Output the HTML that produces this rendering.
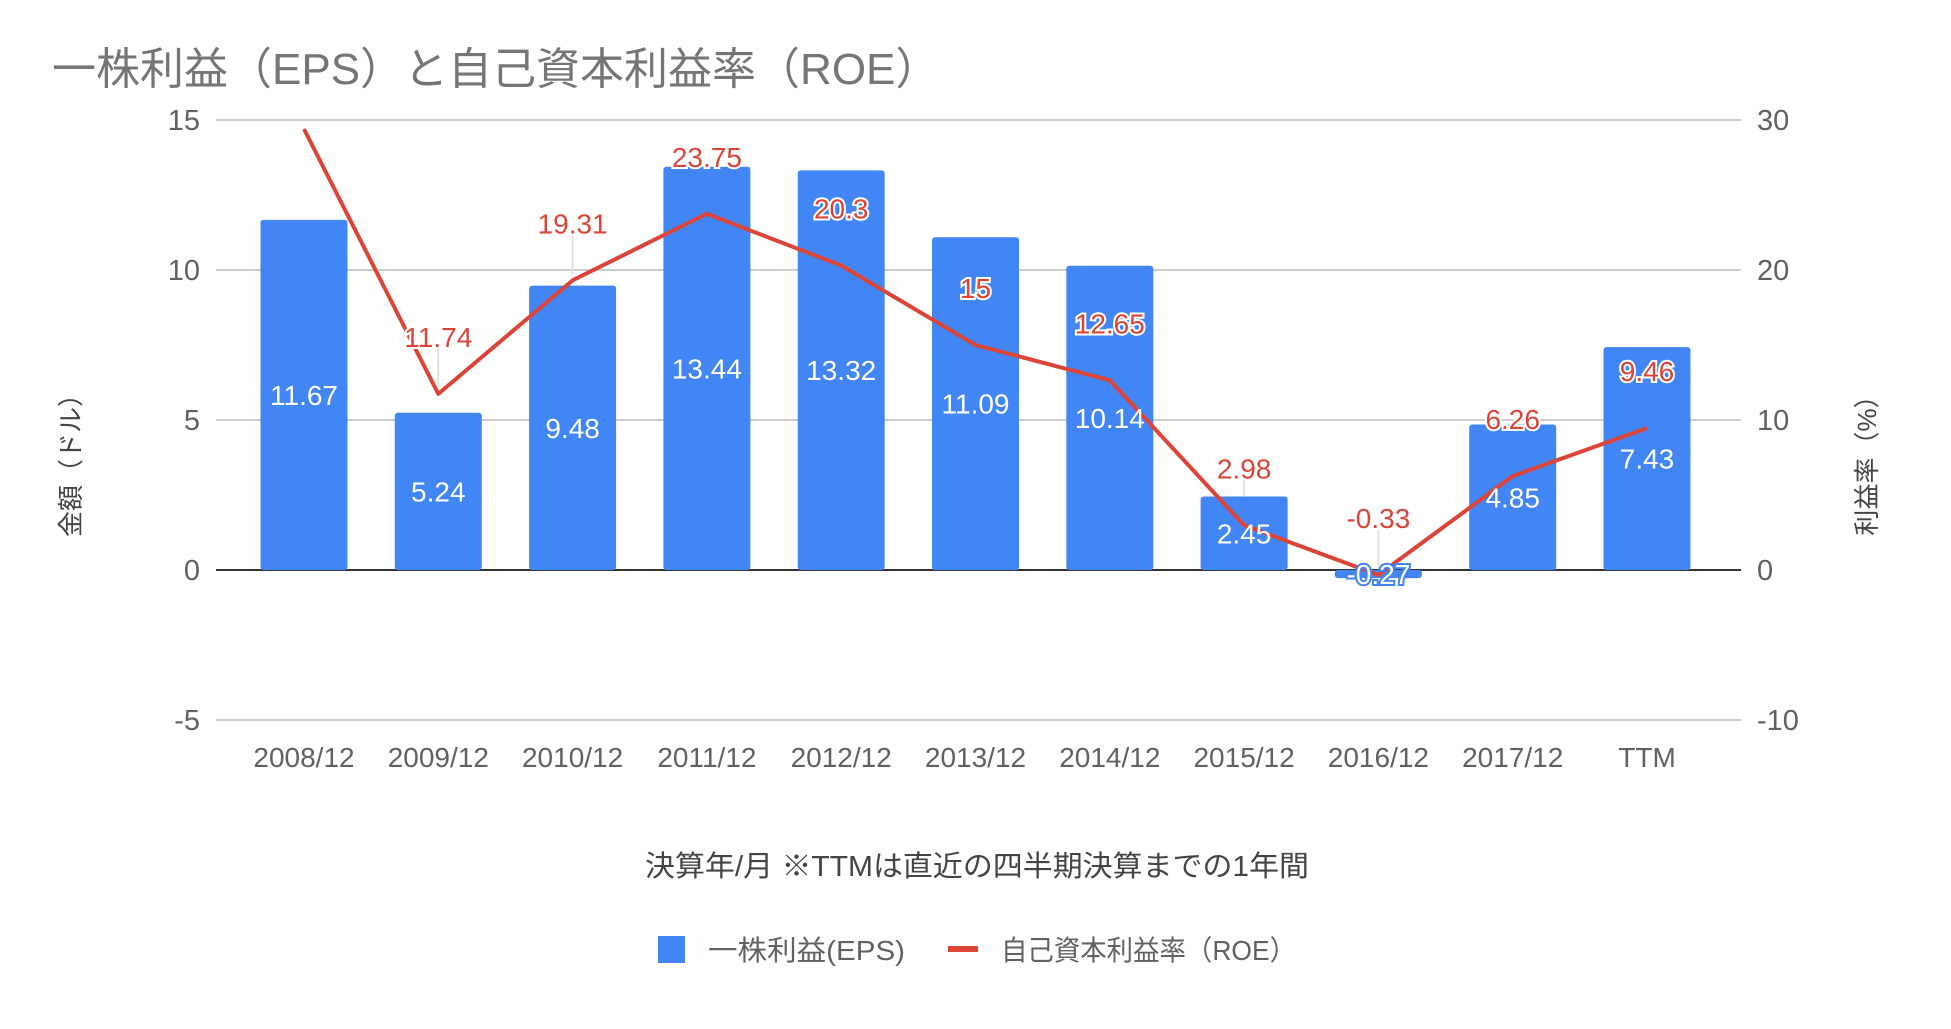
<!DOCTYPE html>
<html><head><meta charset="utf-8">
<style>
html,body{margin:0;padding:0;background:#fff;}
svg text{font-family:"Liberation Sans","Noto Sans CJK JP",sans-serif;}
</style></head>
<body>
<svg id="chart" width="1951" height="1024" viewBox="0 0 1951 1024" xmlns="http://www.w3.org/2000/svg">
<rect width="1951" height="1024" fill="#fff"/>
<text x="52" y="84" font-size="44" fill="#757575">一株利益（EPS）と自己資本利益率（ROE）</text>
<g id="grid"></g>
<g id="leaders"></g>
<g id="bars"></g>
<g id="line"></g>
<g id="labels"></g>
<text transform="translate(80,459) rotate(-90)" text-anchor="middle" font-size="26" fill="#444">金額（ドル）</text>
<text transform="translate(1876,459) rotate(-90)" text-anchor="middle" font-size="26" fill="#444">利益率（%）</text>
<text x="977" y="876" text-anchor="middle" font-size="29" fill="#444" textLength="664" lengthAdjust="spacingAndGlyphs">決算年/月 ※TTMは直近の四半期決算までの1年間</text>
<g>
<rect x="658" y="936" width="27" height="27" fill="#4285f4"/>
<text x="708" y="960" font-size="28" fill="#616161" textLength="197" lengthAdjust="spacingAndGlyphs">一株利益(EPS)</text>
<rect x="948" y="946" width="30" height="6" fill="#db4437"/>
<text x="1001" y="960" font-size="28" fill="#616161" textLength="295" lengthAdjust="spacingAndGlyphs">自己資本利益率（ROE）</text>
</g>
</svg>
<script>
const categories=["2008/12","2009/12","2010/12","2011/12","2012/12","2013/12","2014/12","2015/12","2016/12","2017/12","TTM"];
const epsValues=[11.67,5.24,9.48,13.44,13.32,11.09,10.14,2.45,-0.27,4.85,7.43];
const roeValues=[29.4,11.74,19.31,23.75,20.3,15,12.65,2.98,-0.33,6.26,9.46];
const leftTicks=[15,10,5,0,-5];
const rightTicks=[30,20,10,0,-10];
const NS="http://www.w3.org/2000/svg";
const plotL=216,plotR=1741,zeroY=570,pxPerUnit=30;
function yL(v){return zeroY-v*pxPerUnit;}
function yR(v){return zeroY-v*pxPerUnit/2;}
function xC(i){return 304+i*134.3;}
function mk(tag,attrs,parent,txt){const e=document.createElementNS(NS,tag);for(const k in attrs)e.setAttribute(k,attrs[k]);if(txt!==undefined)e.textContent=txt;parent.appendChild(e);return e;}
const grid=document.getElementById('grid');
leftTicks.forEach((t,i)=>{
  const y=yL(t);
  const ln=mk('line',{x1:plotL,x2:plotR,y1:y,y2:y,stroke:t===0?'#333':'#ccc','stroke-width':2},grid);
  
  
  const tl=mk('text',{x:200,y:y+10,'text-anchor':'end','font-size':29,fill:'#616161'},grid,String(t));
  
  
});
rightTicks.forEach(t=>{
  const tr=mk('text',{x:1757,y:yR(t)+10,'font-size':29,fill:'#616161'},grid,String(t));
  
  
});
categories.forEach((c,i)=>{
  const tx=mk('text',{x:xC(i),y:767,'text-anchor':'middle','font-size':28,fill:'#616161'},grid,c);
  
  
});
const bars=document.getElementById('bars');
const labels=document.getElementById('labels');
const leaders=document.getElementById('leaders');
const bw=87;
epsValues.forEach((v,i)=>{
  const y0=Math.min(yL(v),zeroY),h=Math.max(Math.abs(yL(v)-zeroY),6);
  const b=mk('rect',{x:xC(i)-bw/2,y:v<0?zeroY:y0,width:bw,height:h,rx:3,fill:'#4285f4'},bars);
  
  
});
const line=document.getElementById('line');
const pts=roeValues.map((v,i)=>xC(i)+','+yR(v)).join(' ');
const pl=mk('polyline',{points:pts,fill:'none',stroke:'#db4437','stroke-width':4,'stroke-linejoin':'round'},line);


epsValues.forEach((v,i)=>{
  const my=(yL(v)+zeroY)/2;
  const t=mk('text',{x:xC(i),y:my+10,'text-anchor':'middle','font-size':28,fill:'#fff',stroke:v<0?'#4285f4':'none','stroke-width':v<0?4:0,'paint-order':'stroke'},labels,String(v));
  
  
});
roeValues.forEach((v,i)=>{
  if(i===0)return;
  const py=yR(v),ly=py-57;
  const ll=mk('line',{x1:xC(i),x2:xC(i),y1:ly+12,y2:py-6,stroke:'#e0e0e0','stroke-width':2},leaders);
  
  
  const t=mk('text',{x:xC(i),y:ly+10,'text-anchor':'middle','font-size':28,fill:'#db4437',stroke:'#fff','stroke-width':4,'paint-order':'stroke'},labels,String(v));
  
  
});
</script>
</body></html>
